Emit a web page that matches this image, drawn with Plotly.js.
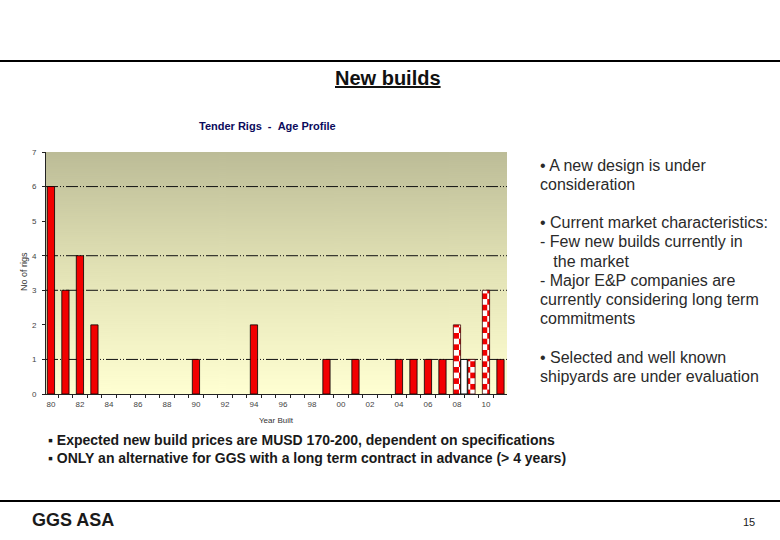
<!DOCTYPE html>
<html>
<head>
<meta charset="utf-8">
<script src="https://cdn.plot.ly/plotly-3.0.1.min.js"></script>
<style>
html,body{margin:0;padding:0;background:#ffffff;}
#chart{width:780px;height:540px;}
</style>
</head>
<body>
<div id="chart"></div>
<script>
// ---- data ----
const yearsBuilt = [1980, 1981, 1982, 1983, 1990, 1994, 1999, 2001, 2004, 2005, 2006, 2007, 2011];
const rigsBuilt = [6, 3, 4, 2, 1, 2, 1, 1, 1, 1, 1, 1, 1];
const yearsOnOrder = [2008, 2009, 2010];
const rigsOnOrder = [2, 1, 3];
const yearsOption = [2009];
const rigsOption = [1];
const tickYears = [1980, 1982, 1984, 1986, 1988, 1990, 1992, 1994, 1996, 1998, 2000, 2002, 2004, 2006, 2008, 2010];
const tickLabels = ['80', '82', '84', '86', '88', '90', '92', '94', '96', '98', '00', '02', '04', '06', '08', '10'];
const gridLevels = [1, 3, 4, 6];
const yTicks = [0, 1, 2, 3, 4, 5, 6, 7];

const slideTitle = 'New builds';
const chartTitle = 'Tender Rigs&nbsp;&nbsp;-&nbsp;&nbsp;Age Profile';
const yTitle = 'No of rigs';
const xTitle = 'Year Built';
const sideLines = [
  '\u2022 A new design is under',
  'consideration',
  '',
  '\u2022 Current market characteristics:',
  '- Few new builds currently in',
  '\u00a0\u00a0\u00a0the market',
  '- Major E&P companies are',
  'currently considering long term',
  'commitments',
  '',
  '\u2022 Selected and well known',
  'shipyards are under evaluation'
];
const bottomLines = [
  '\u25aa Expected new build prices are MUSD 170-200, dependent on specifications',
  '\u25aa ONLY an alternative for GGS with a long term contract in advance (> 4 years)'
];
const footerLeft = 'GGS ASA';
const pageNumber = '15';

// ---- layout geometry (pixels) ----
const W = 780, H = 540;
const PL = 46, PR = 507, PT = 152, PB = 394;
const pw = PR - PL, ph = PB - PT;
const px = x => (x - PL) / pw;
const py = y => (PB - y) / ph;

// gradient background image for plot area
const cv = document.createElement('canvas');
cv.width = 4; cv.height = 242;
const ctx = cv.getContext('2d');
const grd = ctx.createLinearGradient(0, 0, 0, 242);
grd.addColorStop(0, '#bcbc97');
grd.addColorStop(0.5, '#e3e3b6');
grd.addColorStop(1, '#ffffd2');
ctx.fillStyle = grd;
ctx.fillRect(0, 0, 4, 242);
const bgURL = cv.toDataURL('image/png');

const arial = '"Liberation Sans", Arial, sans-serif';

const traces = [
  {
    type: 'bar', name: 'Built', x: yearsBuilt, y: rigsBuilt, width: 0.5,
    marker: {color: '#f20000', line: {color: '#000000', width: 0.8}},
    hoverinfo: 'x+y'
  },
  {
    type: 'bar', name: 'On order', x: yearsOnOrder, y: rigsOnOrder, width: 0.5,
    marker: {color: '#ffffff', line: {color: '#400000', width: 0.8},
      pattern: {shape: 'x', fgcolor: '#f00000', bgcolor: '#ffffff', size: 8, solidity: 0.5, fillmode: 'replace'}},
    hoverinfo: 'x+y'
  },
  {
    type: 'bar', name: 'Option', x: yearsOption, y: rigsOption, width: 0.45, offset: -0.74,
    marker: {color: '#ffffff', line: {color: '#000000', width: 1}},
    hoverinfo: 'x+y'
  }
];

const annotations = [];
function addText(text, x, y, opts) {
  annotations.push(Object.assign({
    text: text, xref: 'paper', yref: 'paper', x: px(x), y: py(y),
    xanchor: 'left', yanchor: 'middle', showarrow: false, borderpad: 0,
    font: {family: arial, size: 15, color: '#222222'}
  }, opts || {}));
}
addText('<b><u>' + slideTitle + '</u></b>', 388, 78, {xanchor: 'center', font: {family: arial, size: 20, color: '#111111'}});
addText('<b>' + chartTitle + '</b>', 267, 126, {xanchor: 'center', font: {family: arial, size: 11, color: '#0b0b5c'}});
addText(yTitle, 24, 272, {xanchor: 'center', textangle: -90, font: {family: arial, size: 9, color: '#333333'}});
addText(xTitle, 276, 420, {xanchor: 'center', font: {family: arial, size: 8, color: '#333333'}});
sideLines.forEach((t, i) => {
  if (t) addText(t, 539, 165 + i * 19.2, {font: {family: arial, size: 16, color: '#2a2a2a'}});
});
bottomLines.forEach((t, i) => {
  addText('<b>' + t + '</b>', 47, 440 + i * 18, {font: {family: arial, size: 14, color: '#1a1a1a'}});
});
addText('<b>' + footerLeft + '</b>', 31, 520, {font: {family: arial, size: 18, color: '#1a1a1a'}});
addText(pageNumber, 756, 522, {xanchor: 'right', font: {family: arial, size: 11, color: '#1a1a1a'}});

const shapes = [
  {type: 'line', xref: 'paper', yref: 'paper', x0: px(0), x1: px(W), y0: py(61), y1: py(61), line: {color: '#000000', width: 2}},
  {type: 'line', xref: 'paper', yref: 'paper', x0: px(0), x1: px(W), y0: py(501), y1: py(501), line: {color: '#000000', width: 2}}
];
gridLevels.forEach(v => {
  shapes.push({type: 'line', xref: 'paper', yref: 'y', x0: 0, x1: 1, y0: v, y1: v, layer: 'below',
    line: {color: '#111111', width: 1, dash: '12px,2px,1px,2px,1px,2px'}});
});

const layout = {
  width: W, height: H, autosize: false,
  margin: {l: PL, r: W - PR, t: PT, b: H - PB, pad: 0},
  paper_bgcolor: '#ffffff',
  plot_bgcolor: 'rgba(0,0,0,0)',
  showlegend: false,
  barmode: 'overlay',
  font: {family: arial, size: 8, color: '#333333'},
  xaxis: {
    range: [1979.66, 2011.45], tickmode: 'array', tickvals: tickYears, ticktext: tickLabels,
    ticks: '', showgrid: false, zeroline: false, showline: true, linecolor: '#222222', linewidth: 1,
    tickfont: {family: arial, size: 8, color: '#444444'}, ticklabelstandoff: 2,
    minor: {ticks: 'outside', tick0: 1980.5, dtick: 1, ticklen: 3, tickcolor: '#222222', showgrid: false}
  },
  yaxis: {
    range: [0, 7], tickmode: 'array', tickvals: yTicks, ticks: 'outside', ticklen: 3, tickcolor: '#222222',
    showgrid: false, zeroline: false, showline: true, linecolor: '#222222', linewidth: 1,
    tickfont: {family: arial, size: 8, color: '#444444'}, ticklabelstandoff: 4
  },
  images: [{source: bgURL, xref: 'paper', yref: 'paper', x: 0, y: 1, sizex: 1, sizey: 1,
    xanchor: 'left', yanchor: 'top', sizing: 'stretch', layer: 'below'}],
  shapes: shapes,
  annotations: annotations
};

Plotly.newPlot('chart', traces, layout, {displayModeBar: false, staticPlot: true}).then(gd => {
  // turn the hatch pattern of the "On order" bars into a checkerboard
  const NS = 'http://www.w3.org/2000/svg';
  gd.querySelectorAll('pattern').forEach(p => {
    const s = parseFloat(p.getAttribute('width')) || 8;
    while (p.firstChild) p.removeChild(p.firstChild);
    p.removeAttribute('patternTransform');
    const mk = (x, y, w, h, c) => {
      const r = document.createElementNS(NS, 'rect');
      r.setAttribute('x', x); r.setAttribute('y', y);
      r.setAttribute('width', w); r.setAttribute('height', h);
      r.setAttribute('fill', c);
      p.appendChild(r);
    };
    mk(0, 0, s, s, '#ffffff');
    mk(0, 0, s / 2, s / 2, '#f00000');
    mk(s / 2, s / 2, s / 2, s / 2, '#f00000');
  });
});
</script>
</body>
</html>
